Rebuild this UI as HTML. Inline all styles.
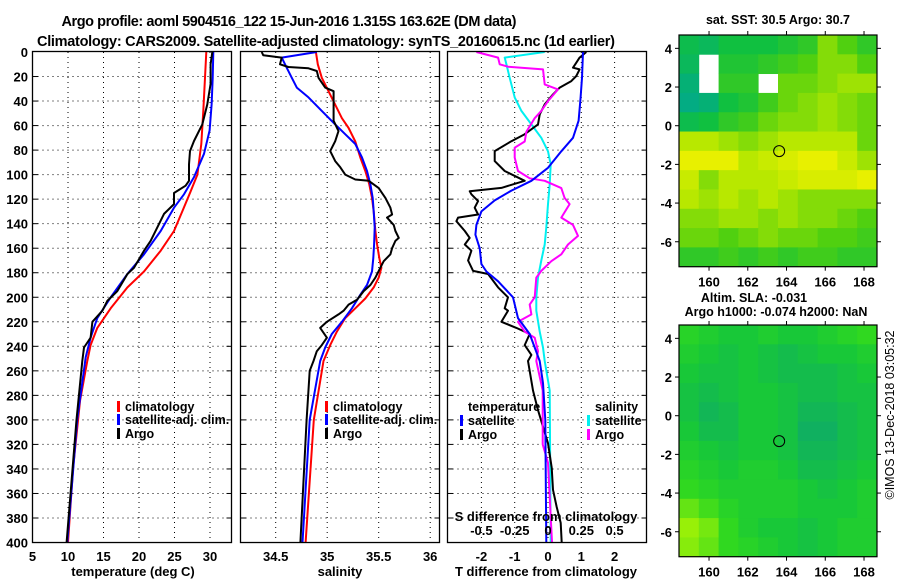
<!DOCTYPE html>
<html><head><meta charset="utf-8"><style>
html,body{margin:0;padding:0;background:#fff;}
svg{display:block;font-family:"Liberation Sans",Arial,sans-serif;font-weight:bold;}
</style></head><body>
<svg id="chart" width="900" height="580" viewBox="0 0 900 580" xmlns="http://www.w3.org/2000/svg">
<text x="289" y="26" font-size="14.5" text-anchor="middle" textLength="455">Argo profile: aoml 5904516_122 15-Jun-2016 1.315S 163.62E (DM data)</text>
<text x="326" y="46" font-size="14.5" text-anchor="middle" textLength="578">Climatology: CARS2009. Satellite-adjusted climatology: synTS_20160615.nc (1d earlier)</text>
<g id="layer"></g>
</svg>
<script>
// ---- Panel 1: temperature profiles (depth m, deg C)
const t_clim_depth=[0,21,48,75,100,113.5,130,146,162,179,192,209,225,239,252,284,340,400];
const t_clim_val=[29.48,29.30,29.06,28.78,28.22,27.28,26.10,24.93,23.05,20.70,18.36,16.01,14.13,13.19,12.72,11.7,10.7,10.0];
const t_sat_depth=[0,21,43,64,83,102,116,127,146,165,181,200,217,233,249,300,400];
const t_sat_val=[30.47,30.38,30.23,29.95,29.15,27.75,26.34,24.93,23.05,20.70,18.36,16.01,14.13,13.19,12.49,11.3,9.9];
const t_argo_depth=[0,10,26,42.7,59,72.6,80.8,91.6,105,109,115,124,132,143,154,162,176,181,195,203,211,220,233,241,252,300,400];
const t_argo_val=[30.33,30.09,30.09,29.62,28.92,27.75,27.18,27.04,27.04,26.57,24.93,24.93,23.52,22.58,21.64,20.70,19.30,18.36,16.95,15.54,14.84,13.43,13.19,12.25,12.02,11.2,9.8];
// ---- Panel 2: salinity profiles
const s_clim_depth=[0,10,21,32,43,54,62,73,86,97,108,119,130,146,157,168,176,184,192,201,209,217,228,239,252,300,400];
const s_clim_val=[34.890,34.909,34.948,35.013,35.078,35.143,35.208,35.273,35.321,35.370,35.409,35.435,35.451,35.468,35.484,35.506,35.526,35.500,35.451,35.370,35.273,35.175,35.094,35.029,34.964,34.87,34.79];
const s_sat_depth=[0,4.6,12.8,21,29,37,48,59,67,75,86,97,108,119,130,143,157,168,179,190,198,209,220,230,241,252,300,400];
const s_sat_val=[34.899,34.558,34.607,34.656,34.705,34.818,34.948,35.078,35.175,35.273,35.338,35.386,35.419,35.442,35.451,35.461,35.455,35.448,35.435,35.386,35.321,35.240,35.143,35.045,34.981,34.932,34.83,34.76];
const s_argo_depth=[0,2.7,4.6,10,12.2,13.3,15.5,21,29,32,56,64.5,72.7,80.8,89,94,100,104,105,111,119,127,132.5,135,141,146,151.6,154,160,165,170.6,176,184,190,195,202,206,211,214,220,225,233,239,244,252,260,300,400];
const s_argo_val=[34.364,34.380,34.558,34.542,34.623,34.818,34.899,34.916,34.981,35.062,35.062,35.110,35.078,35.029,35.078,35.127,35.175,35.273,35.403,35.500,35.565,35.614,35.630,35.581,35.646,35.662,35.695,35.662,35.630,35.614,35.549,35.516,35.468,35.419,35.354,35.289,35.208,35.159,35.110,34.997,34.932,34.997,34.948,34.899,34.867,34.83,34.80,34.74];
// ---- Panel 3: differences from climatology
const dT_sat_depth=[0,21,37,56,70,81,94.4,105,113,121,130,141,149,160,173,179,187,200,217,230,241,252,270,300,400];
const dT_sat_val=[1.05,1.02,0.98,0.92,0.75,0.40,0.0,-0.50,-1.10,-1.60,-2.00,-2.15,-2.18,-2.05,-2.00,-1.85,-1.50,-1.05,-0.90,-0.55,-0.40,-0.25,-0.15,-0.08,-0.05];
const dT_argo_depth=[0,4.6,8.7,12.8,14.2,19.6,23.7,29,34.6,42.7,50.9,59,67,72.7,80.8,89,97,105,110.8,113.5,116,121.6,127,132.5,135,138,146,151.6,157,162,170,178.5,181,192,200,209,211,220,225,230,239,247,252,276,292,311,319,339,357,371,384,400];
const dT_argo_val=[1.15,0.95,0.85,0.75,0.95,0.85,0.70,0.35,0.15,-0.10,-0.25,-0.30,-0.70,-1.10,-1.60,-1.60,-1.30,-0.70,-1.40,-2.35,-2.30,-2.10,-2.20,-2.10,-2.70,-2.75,-2.50,-2.35,-2.50,-2.30,-2.40,-2.25,-1.80,-1.50,-1.20,-1.30,-1.20,-1.40,-0.95,-0.55,-0.70,-0.50,-0.60,-0.45,-0.30,-0.09,0.0,0.11,0.15,0.26,0.38,0.41];
const dS_sat_depth=[0,4.6,10,21,37,48,59,70,81,91.6,108,124,143,157,170,184,200,211,228,241,252,276,400];
const dS_sat_val=[-0.025,-0.325,-0.3125,-0.2875,-0.25,-0.2,-0.125,-0.05,0,0.02,0.0125,0,-0.0125,-0.025,-0.05,-0.075,-0.0875,-0.0875,-0.0625,-0.0375,-0.025,0.0125,0.02];
const dS_argo_depth=[0,4.6,10,12,14.2,26.4,30.5,40,48,54,65,73,78,86,97,103,105,111,119,124,135,141,150,157,165,170.6,178.5,184,200,206,214,220,228,233,244,252,276,320,335,400];
const dS_argo_val=[-0.5375,-0.375,-0.3625,-0.3,-0.0375,-0.025,0.075,0,-0.05,-0.1,-0.1625,-0.175,-0.25,-0.25,-0.225,-0.1375,-0.025,0.1,0.125,0.1625,0.1,0.1875,0.225,0.15,0.1,0.025,-0.05,-0.0875,-0.1,-0.1375,-0.125,-0.225,-0.175,-0.1,-0.075,-0.0875,-0.04,-0.04,0.0,0.03];
// ---- Ticks
const depthTicks=[0,20,40,60,80,100,120,140,160,180,200,220,240,260,280,300,320,340,360,380,400];
const tTicks=[5,10,15,20,25,30];
const sTicks=[34.5,35,35.5,36];
const dTTicks=[-2,-1,0,1,2];
const dSTicks=[-0.5,-0.25,0,0.25,0.5];
const dSTickLabels=["-0.5","-0.25","0","0.25","0.5"];
const latTicks=[4,2,0,-2,-4,-6];
const lonTicks=[160,162,164,166,168];
// ---- Maps (coarse grids, rows north->south, cols west->east; null = no data)
const sstGrid=[
[0.25,0.2,0.3,0.3,0.3,0.35,0.4,0.6,0.5,0.4],
[0.2,null,0.35,0.35,0.4,0.45,0.5,0.6,0.6,0.5],
[0.1,null,0.4,0.4,null,0.55,0.55,0.6,0.65,0.65],
[0.05,0.1,0.3,0.35,0.45,0.55,0.6,0.65,0.6,0.55],
[0.25,0.3,0.4,0.45,0.55,0.6,0.6,0.65,0.6,0.55],
[0.7,0.7,0.65,0.6,0.65,0.7,0.7,0.7,0.7,0.55],
[0.85,0.85,0.85,0.7,0.75,0.8,0.85,0.85,0.75,0.65],
[0.75,0.6,0.7,0.7,0.7,0.75,0.8,0.8,0.8,0.85],
[0.7,0.65,0.7,0.65,0.7,0.65,0.6,0.6,0.6,0.6],
[0.6,0.6,0.65,0.65,0.6,0.65,0.6,0.6,0.55,0.5],
[0.55,0.55,0.5,0.55,0.6,0.55,0.55,0.5,0.5,0.45],
[0.4,0.4,0.45,0.4,0.45,0.4,0.45,0.45,0.4,0.4]];
const slaGrid=[
[0.55,0.5,0.45,0.45,0.5,0.45,0.45,0.5,0.55,0.6],
[0.5,0.45,0.4,0.45,0.4,0.35,0.4,0.45,0.45,0.5],
[0.45,0.4,0.4,0.45,0.4,0.35,0.35,0.35,0.4,0.45],
[0.4,0.35,0.4,0.45,0.45,0.4,0.35,0.35,0.4,0.4],
[0.4,0.3,0.35,0.45,0.45,0.4,0.3,0.3,0.35,0.4],
[0.45,0.35,0.35,0.45,0.45,0.4,0.25,0.25,0.35,0.4],
[0.5,0.45,0.4,0.45,0.45,0.4,0.3,0.3,0.35,0.4],
[0.55,0.5,0.45,0.5,0.5,0.45,0.35,0.35,0.4,0.45],
[0.6,0.55,0.5,0.5,0.5,0.5,0.45,0.4,0.45,0.5],
[0.75,0.65,0.55,0.5,0.5,0.5,0.45,0.45,0.45,0.5],
[0.9,0.8,0.6,0.5,0.45,0.45,0.4,0.45,0.5,0.5],
[0.85,0.75,0.6,0.55,0.5,0.45,0.4,0.45,0.5,0.5]];
const argoLon=163.62, argoLat=-1.315;

const NS="http://www.w3.org/2000/svg";
const layer=document.getElementById('layer');
function mk(tag,attrs,parent){const e=document.createElementNS(NS,tag);for(const k in attrs)e.setAttribute(k,attrs[k]);(parent||layer).appendChild(e);return e;}
function txt(x,y,s,size,anchor,parent){const e=mk('text',{x:x,y:y,'font-size':size,'text-anchor':anchor||'middle'},parent);e.textContent=s;return e;}

const Y0=52, PY=1.2263, YB=52+400*PY;
const yD=d=>Y0+d*PY;
const panels=[
 {x0:32.5,x1:231.5,xs:v=>32.5+(v-5)*7.1},
 {x0:240.5,x1:439.5,xs:v=>275.7+(v-34.5)*103},
 {x0:447.5,x1:646.5,xs:v=>548+v*33.3}
];
const xS3=v=>548+v*133.2;

panels.forEach((p,i)=>{
  const g=mk('g',{});
  
  
  depthTicks.forEach(d=>{
    if(d===0||d===400)return;
    const l=mk('line',{x1:p.x0,x2:p.x1,y1:yD(d),y2:yD(d),stroke:'#000','stroke-width':1,'stroke-dasharray':'1,4'},g);
    
    
    mk('line',{x1:p.x0,x2:p.x0+5,y1:yD(d),y2:yD(d),stroke:'#000'},g);
    mk('line',{x1:p.x1-5,x2:p.x1,y1:yD(d),y2:yD(d),stroke:'#000'},g);
  });
  const ticks=i===0?tTicks:(i===1?sTicks:dTTicks);
  ticks.forEach((v,k)=>{
    const x=p.xs(v);
    if(x>p.x0+1&&x<p.x1-1){
      const l=mk('line',{x1:x,x2:x,y1:Y0,y2:YB,stroke:'#000','stroke-width':1,'stroke-dasharray':'1,4'},g);
      
      
    }
    const t=txt(x,561,String(v),13,'middle',g);
    
    
  });
});

// y tick labels (panel 1)
depthTicks.forEach(d=>{
  const t=txt(28,yD(d)+5,String(d),13,'end');
  
  
});

function line(xs,depths,vals,color,name,w){
  const pts=depths.map((d,k)=>xs(vals[k]).toFixed(1)+','+yD(d).toFixed(1)).join(' ');
  const e=mk('polyline',{points:pts,fill:'none',stroke:color,'stroke-width':w||2,'stroke-linejoin':'round'});
  
  
}
line(panels[0].xs,t_clim_depth,t_clim_val,'#f00','temp-climatology-line');
line(panels[0].xs,t_sat_depth,t_sat_val,'#00f','temp-satellite-adj-line');
line(panels[0].xs,t_argo_depth,t_argo_val,'#000','temp-argo-line');
line(panels[1].xs,s_clim_depth,s_clim_val,'#f00','sal-climatology-line');
line(panels[1].xs,s_sat_depth,s_sat_val,'#00f','sal-satellite-adj-line');
line(panels[1].xs,s_argo_depth,s_argo_val,'#000','sal-argo-line');
line(xS3,dS_sat_depth,dS_sat_val,'#00f0f0','sdiff-satellite-line');
line(panels[2].xs,dT_argo_depth,dT_argo_val,'#000','tdiff-argo-line');
line(xS3,dS_argo_depth,dS_argo_val,'#f0f','sdiff-argo-line');
line(panels[2].xs,dT_sat_depth,dT_sat_val,'#00f','tdiff-satellite-line');

// frames
panels.forEach((p,i)=>{
  const r=mk('rect',{x:p.x0,y:Y0-0.5,width:p.x1-p.x0,height:YB-Y0+0.5,fill:'none',stroke:'#000','stroke-width':1.3});
  
  
});

// S difference axis (inside panel 3)
dSTicks.forEach((v,k)=>{
  const t=txt(xS3(v),535,dSTickLabels[k],13,'middle');
  
  
});
let at=txt(546,521,'S difference from climatology',13,'middle');



// axis titles
[[133,'temperature (deg C)','temp-axis-title'],[340,'salinity','sal-axis-title'],[546,'T difference from climatology','t-diff-axis-title']].forEach(a=>{
  const t=txt(a[0],576,a[1],13,'middle');
  
  
});

// legends
function legend(x,y,color,label,name){
  const g=mk('g',{});
  
  
  mk('rect',{x:x,y:y-10,width:3,height:11,fill:color},g);
  txt(x+8,y,label,12.5,'start',g);
}
legend(117,411,'#f00','climatology','legend-entry-climatology');
legend(117,424,'#00f','satellite-adj. clim.','legend-entry-satellite-adj');
legend(117,438,'#000','Argo','legend-entry-argo');
legend(325,411,'#f00','climatology','legend-entry-sal-climatology');
legend(325,424,'#00f','satellite-adj. clim.','legend-entry-sal-satellite-adj');
legend(325,438,'#000','Argo','legend-entry-sal-argo');
let lt=txt(468,411,'temperature',12.5,'start');


legend(460,425,'#00f','satellite','legend-entry-t-satellite');
legend(460,439,'#000','Argo','legend-entry-t-argo');
lt=txt(595,411,'salinity',12.5,'start');


legend(587,425,'#00f0f0','satellite','legend-entry-s-satellite');
legend(587,439,'#f0f','Argo','legend-entry-s-argo');

// ---- maps
function interp(stops,v){
  for(let i=1;i<stops.length;i++){if(v<=stops[i][0]||i===stops.length-1){const a=stops[i-1],b=stops[i];const t=Math.max(0,Math.min(1,(v-a[0])/(b[0]-a[0])));
    const c=[0,1,2].map(k=>Math.round(a[1][k]+(b[1][k]-a[1][k])*t));return 'rgb('+c.join(',')+')';}}
}
const sstStops=[[0,[0,168,144]],[0.3,[16,192,64]],[0.5,[80,208,16]],[0.7,[184,232,0]],[0.85,[232,240,0]],[1,[240,200,0]]];
const slaStops=[[0.25,[16,176,96]],[0.45,[24,200,56]],[0.6,[48,216,32]],[0.9,[152,240,8]]];
const MX0=679, MX1=877, LON0=158.45, LON1=168.67, LAT0=4.69, LAT1=-7.29;
const lonX=lon=>MX0+(lon-LON0)/(LON1-LON0)*(MX1-MX0);
function drawMap(top,grid,stops,name,title1,title2){
  const bottom=top+231.7;
  const latY=lat=>top+(LAT0-lat)/(LAT0-LAT1)*(bottom-top);
  const g=mk('g',{});
  
  
  const nr=grid.length,nc=grid[0].length;
  const dlon=(LON1-LON0)/nc, dlat=(LAT0-LAT1)/nr;
  mk('rect',{x:MX0,y:top,width:MX1-MX0,height:bottom-top,fill:'#fff'},g);
  grid.forEach((row,r)=>row.forEach((v,c)=>{
    if(v===null)return;
    const x=lonX(LON0+c*dlon), y=latY(LAT0-r*dlat);
    const cell=mk('rect',{x:x.toFixed(2),y:y.toFixed(2),width:(lonX(LON0+(c+1)*dlon)-x+0.4).toFixed(2),height:(latY(LAT0-(r+1)*dlat)-y+0.4).toFixed(2),fill:interp(stops,v)},g);
    
    
  }));
  const c=mk('circle',{cx:lonX(argoLon),cy:latY(argoLat),r:5.5,fill:'none',stroke:'#000','stroke-width':1},g);
  
  
  mk('rect',{x:MX0,y:top,width:MX1-MX0,height:bottom-top,fill:'none',stroke:'#000','stroke-width':1.2},g);
  latTicks.forEach(l=>{
    const y=latY(l);
    mk('line',{x1:MX0-4,x2:MX0,y1:y,y2:y,stroke:'#000'},g);
    mk('line',{x1:MX1,x2:MX1+4,y1:y,y2:y,stroke:'#000'},g);
    const t=txt(672,y+5,String(l),13,'end',g);
    
    
  });
  lonTicks.forEach(l=>{
    const x=lonX(l);
    mk('line',{x1:x,x2:x,y1:top-4,y2:top,stroke:'#000'},g);
    mk('line',{x1:x,x2:x,y1:bottom,y2:bottom+4,stroke:'#000'},g);
    const t=txt(x,bottom+20,String(l),13,'middle',g);
    
    
  });
}
drawMap(35,sstGrid,sstStops,'sst-map');
drawMap(325,slaGrid,slaStops,'sla-map');
let m=txt(778,24,'sat. SST: 30.5 Argo: 30.7',12.5,'middle');


m=txt(754,302,'Altim. SLA: -0.031',12.5,'middle');


m=txt(776,316,'Argo h1000: -0.074 h2000: NaN',12.5,'middle');


m=txt(0,0,'©IMOS 13-Dec-2018 03:05:32',12.5,'middle');
m.setAttribute('transform','translate(894,415) rotate(-90)');
m.setAttribute('font-weight','normal');


</script>
</body></html>
